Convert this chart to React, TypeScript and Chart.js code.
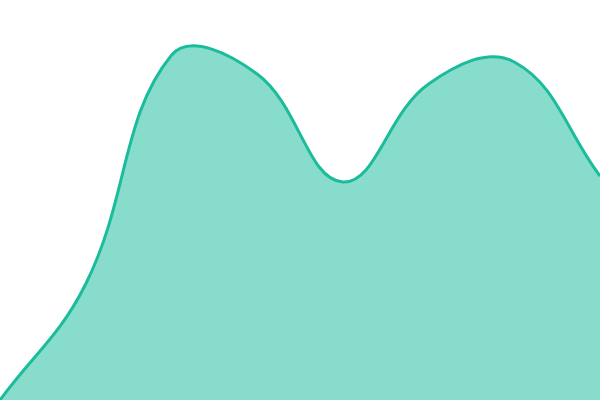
import { useEffect, useRef } from "react";
import { Chart, registerables } from "chart.js";

Chart.register(...registerables);

const labels = ["A", "B", "C", "D", "E", "F", "G", "H"];
const values = [0, 29, 86.2, 81.5, 54.5, 79, 84.5, 56];

export default function App() {
  const canvasRef = useRef<HTMLCanvasElement | null>(null);

  useEffect(() => {
    if (!canvasRef.current) return;
    const chart = new Chart(canvasRef.current, {
      type: "line",
      data: {
        labels,
        datasets: [
          {
            data: values,
            borderColor: "#1abc9c",
            backgroundColor: "rgba(26, 188, 156, 0.52)",
            borderWidth: 3,
            fill: true,
            tension: 0.4,
            pointRadius: 0,
          },
        ],
      },
      options: {
        animation: false,
        responsive: true,
        maintainAspectRatio: false,
        layout: { padding: 0 },
        plugins: { legend: { display: false }, tooltip: { enabled: false } },
        scales: {
          x: { display: false },
          y: { display: false, min: 0, max: 100 },
        },
      },
    });
    return () => chart.destroy();
  }, []);

  return (
    <div style={{ position: "fixed", left: 0, top: 0, width: 600, height: 400 }}>
      <canvas ref={canvasRef} />
    </div>
  );
}
